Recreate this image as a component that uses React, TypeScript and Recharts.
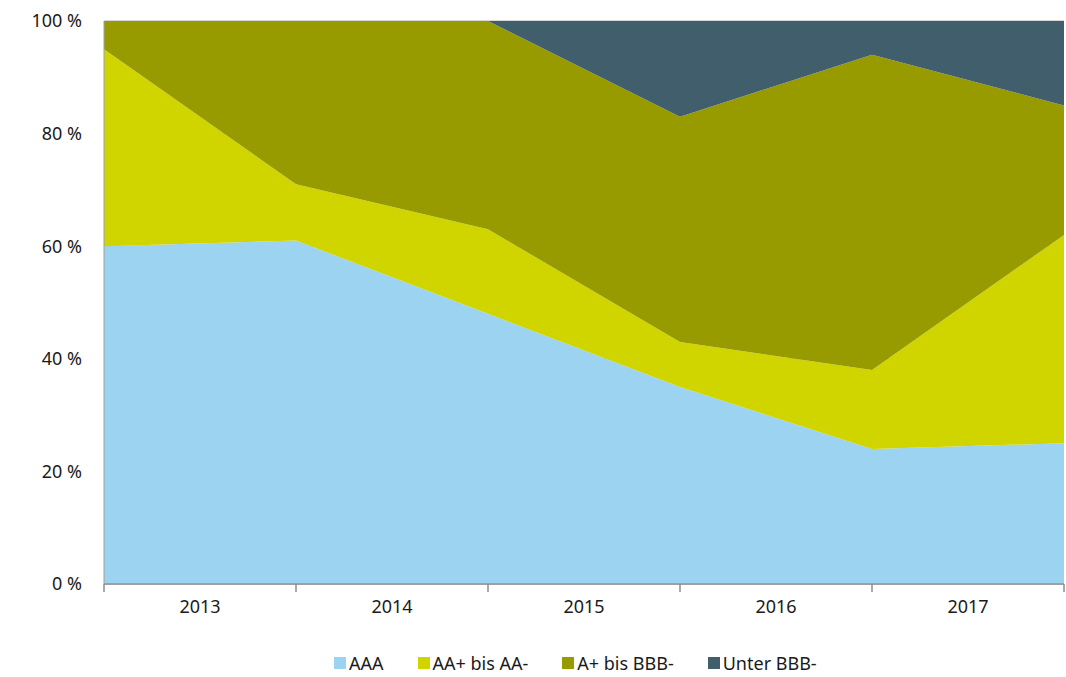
import { AreaChart, Area, XAxis, YAxis, CartesianGrid, Legend } from "recharts";

// points sit on the year boundaries, labels are centered between them
const points = [0, 1, 2, 3, 4, 5];
const years = ["2013", "2014", "2015", "2016", "2017"];

const aaa = [60, 61, 48, 35, 24, 25];
const aaPlus = [35, 10, 15, 8, 14, 37];
const aPlus = [5, 29, 37, 40, 56, 23];
const unterBBB = [0, 0, 0, 17, 6, 15];

const yTicks = [0, 20, 40, 60, 80, 100];

const series = [
  { key: "aaa", name: "AAA", color: "#9bd3f0" },
  { key: "aa", name: "AA+ bis AA-", color: "#d0d500" },
  { key: "a", name: "A+ bis BBB-", color: "#979b00" },
  { key: "unter", name: "Unter BBB-", color: "#415e6d" },
];

const data = points.map((p, i) => ({
  x: p,
  aaa: aaa[i],
  aa: aaPlus[i],
  a: aPlus[i],
  unter: unterBBB[i],
}));

const WIDTH = 1066;
const HEIGHT = 677;
const MARGIN = { top: 21, right: 2, bottom: 53, left: 0 };
const Y_WIDTH = 104;
const STEP = (WIDTH - MARGIN.left - MARGIN.right - Y_WIDTH) / years.length;
const FONT = "'Noto Sans', 'Open Sans', sans-serif";

function YearTick(props: any) {
  const { x, y, index } = props;
  return (
    <g>
      <line x1={x} x2={x} y1={y} y2={y + 8} stroke="#8c8c8c" strokeWidth={1.5} />
      {index < years.length && (
        <text
          x={x + STEP / 2}
          y={y + 29}
          textAnchor="middle"
          fill="#1a1a1a"
          fontSize={18}
          fontFamily={FONT}
        >
          {years[index]}
        </text>
      )}
    </g>
  );
}

function LegendContent() {
  return (
    <div
      style={{
        display: "flex",
        gap: 34,
        fontFamily: FONT,
        fontSize: 18,
        color: "#1a1a1a",
        lineHeight: "24px",
      }}
    >
      {series.map((s) => (
        <div key={s.key} style={{ display: "flex", alignItems: "center" }}>
          <span
            style={{
              display: "inline-block",
              width: 12,
              height: 12,
              background: s.color,
              marginRight: 3,
            }}
          />
          <span>{s.name}</span>
        </div>
      ))}
    </div>
  );
}

export default function App() {
  return (
    <div style={{ position: "absolute", left: 0, top: 0 }}>
      <AreaChart width={WIDTH} height={HEIGHT} data={data} margin={MARGIN}>
        <CartesianGrid vertical={false} stroke="#b0b0b0" />
        <XAxis
          dataKey="x"
          type="number"
          domain={[0, 5]}
          ticks={points}
          height={40}
          tickSize={0}
          tickMargin={0}
          tickLine={false}
          axisLine={{ stroke: "#a0a0a0", strokeWidth: 2 }}
          tick={<YearTick />}
          interval={0}
        />
        <YAxis
          type="number"
          domain={[0, 100]}
          ticks={yTicks}
          width={Y_WIDTH}
          tickSize={0}
          tickMargin={22}
          tickLine={false}
          axisLine={{ stroke: "#a0a0a0" }}
          tickFormatter={(v: number) => `${v} %`}
          tick={{ fill: "#1a1a1a", fontSize: 18, fontFamily: FONT }}
          interval={0}
        />
        {series.map((s) => (
          <Area
            key={s.key}
            type="linear"
            dataKey={s.key}
            name={s.name}
            stackId="1"
            stroke="none"
            fill={s.color}
            fillOpacity={1}
            isAnimationActive={false}
          />
        ))}
        <Legend
          layout="horizontal"
          verticalAlign="middle"
          align="center"
          content={<LegendContent />}
          wrapperStyle={{ position: "absolute", top: 651, left: 334, width: "auto" }}
        />
      </AreaChart>
    </div>
  );
}
